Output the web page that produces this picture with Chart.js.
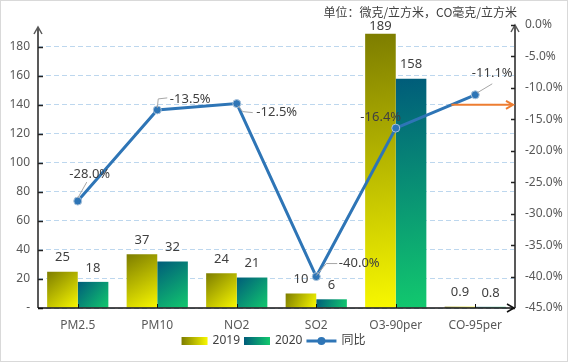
<!DOCTYPE html>
<html>
<head>
<meta charset="utf-8">
<script src="https://cdn.jsdelivr.net/npm/chart.js@4.4.1/dist/chart.umd.min.js"></script>
<style>
  html, body { margin: 0; padding: 0; background: #fff; }
</style>
</head>
<body>
<canvas id="chart" width="568" height="362"></canvas>
<script>
// data
const categories = ['PM2.5', 'PM10', 'NO2', 'SO2', 'O3-90per', 'CO-95per'];
const values2019 = [25, 37, 24, 10, 189, 0.9];
const values2020 = [18, 32, 21, 6, 158, 0.8];
const yoyChange = [-28.0, -13.5, -12.5, -40.0, -16.4, -11.1];
const seriesNames = ['2019', '2020', '同比'];
const unitTitle = '单位：微克/立方米，CO毫克/立方米';

const CAT_PCT = 0.77;
const TEXT = '#404040';
const TICK = '#595959';
const LINE_BLUE = '#2e75b6';
const GRAD_2019 = ['#7d7d00', '#f8f800'];
const GRAD_2020 = ['#005c7a', '#12c96e'];

// where each yoy label sits relative to its point, and its leader line
const yoyLabelPos = [
  { dx: 12, dy: -27, leader: [[0, -3], [9, -19]] },
  { dx: 33, dy: -11, leader: [[0, -2], [1, -11], [10, -12]] },
  { dx: 40, dy: 9, leader: [[1, 2], [6, 8], [16, 9]] },
  { dx: 43, dy: -13, leader: [[0, -1], [10, -13], [21, -13]] },
  { dx: -15, dy: -11, leader: null },
  { dx: 17, dy: -22, leader: [[2, -2], [17, -11]] },
];

Chart.defaults.font.family = '"Noto Sans", "Noto Sans CJK SC", sans-serif';
Chart.defaults.font.size = 12;

// gradient over the bar's own box, top-left dark to bottom-right bright
function barGradient(ctx, stops, slot) {
  const chart = ctx.chart;
  const xs = chart.scales.x, ys = chart.scales.y;
  if (ctx.type !== 'data' || !xs || !ys) return stops[1];
  const cw = xs.getPixelForValue(1) - xs.getPixelForValue(0);
  const bw = cw * CAT_PCT / 2;
  const left = xs.getPixelForValue(ctx.dataIndex) - bw + slot * bw;
  const top = ys.getPixelForValue(ctx.raw);
  const bottom = ys.getPixelForValue(0);
  if (![cw, left, top, bottom].every(Number.isFinite) || bw <= 0) return stops[1];
  const g = chart.ctx.createLinearGradient(left, top, left + bw, bottom);
  g.addColorStop(0, stops[0]);
  g.addColorStop(1, stops[1]);
  return g;
}

function arrowHead(c, x, y, dir) {
  c.beginPath();
  if (dir === 'up') {
    c.moveTo(x - 4, y + 7); c.lineTo(x, y); c.lineTo(x + 4, y + 7);
  } else {
    c.moveTo(x - 7, y - 4); c.lineTo(x, y); c.lineTo(x - 7, y + 4);
  }
  c.stroke();
}

const decorPlugin = {
  id: 'decor',
  afterDatasetsDraw(chart) {
    const c = chart.ctx;
    const area = chart.chartArea;
    c.save();
    c.font = '13px "Noto Sans", "Noto Sans CJK SC", sans-serif';
    c.fillStyle = TEXT;
    c.textAlign = 'center';
    c.textBaseline = 'middle';
    // bar value labels
    [0, 1].forEach(di => {
      const meta = chart.getDatasetMeta(di);
      meta.data.forEach((el, i) => {
        const v = chart.data.datasets[di].data[i];
        const y = Math.max(el.y - 14, area.top + 1);
        c.fillText(String(v), el.x, y);
      });
    });
    // yoy labels with leader lines
    const lineMeta = chart.getDatasetMeta(2);
    lineMeta.data.forEach((el, i) => {
      const p = yoyLabelPos[i];
      if (p.leader) {
        c.strokeStyle = '#a6a6a6';
        c.lineWidth = 1;
        c.beginPath();
        p.leader.forEach((pt, k) => {
          if (k === 0) c.moveTo(el.x + pt[0], el.y + pt[1]);
          else c.lineTo(el.x + pt[0], el.y + pt[1]);
        });
        c.stroke();
      }
      c.fillText(yoyChange[i].toFixed(1) + '%', el.x + p.dx, el.y + p.dy);
    });
    c.restore();
  },
  afterDraw(chart) {
    const c = chart.ctx;
    const area = chart.chartArea;
    const xs = chart.scales.x, ys = chart.scales.y, y1 = chart.scales.y1;
    c.save();

    // left axis
    c.strokeStyle = TICK;
    c.lineWidth = 2;
    c.beginPath();
    c.moveTo(area.left, area.bottom);
    c.lineTo(area.left, area.top + 2);
    c.stroke();
    c.lineWidth = 1.5;
    arrowHead(c, area.left, area.top + 2, 'up');
    ys.ticks.forEach(t => {
      const py = Math.round(ys.getPixelForValue(t.value)) + 0.5;
      c.strokeStyle = t.value === 0 ? '#000' : '#222';
      c.beginPath(); c.moveTo(area.left, py); c.lineTo(area.left + 5, py); c.stroke();
    });

    // right axis
    c.strokeStyle = TICK;
    c.lineWidth = 2;
    c.beginPath();
    c.moveTo(area.right, area.bottom);
    c.lineTo(area.right, area.top);
    c.stroke();
    c.lineWidth = 1.5;
    arrowHead(c, area.right, area.top, 'up');
    c.strokeStyle = '#222';
    y1.ticks.forEach(t => {
      const py = Math.round(y1.getPixelForValue(t.value)) + 0.5;
      c.beginPath(); c.moveTo(area.right - 4, py); c.lineTo(area.right, py); c.stroke();
    });

    // x axis
    c.strokeStyle = '#111';
    c.lineWidth = 1.5;
    c.beginPath();
    c.moveTo(area.left, area.bottom);
    c.lineTo(area.right - 1, area.bottom);
    c.stroke();
    arrowHead(c, area.right - 1, area.bottom, 'right');
    c.lineWidth = 1;
    categories.forEach((_, i) => {
      const px = Math.round(xs.getPixelForValue(i)) + 0.5;
      c.beginPath(); c.moveTo(px, area.bottom); c.lineTo(px, area.bottom - 4); c.stroke();
    });

    // orange pointer to the right axis
    const ay = y1.getPixelForValue(-12.7);
    c.strokeStyle = '#ed7d31';
    c.lineWidth = 2;
    c.beginPath();
    c.moveTo(xs.getPixelForValue(4.7), ay);
    c.lineTo(area.right - 2, ay);
    c.stroke();
    arrowHead(c, area.right - 2, ay, 'right');

    // unit title
    c.font = '12px "Noto Sans CJK SC", "Noto Sans", sans-serif';
    c.fillStyle = TEXT;
    c.textAlign = 'right';
    c.textBaseline = 'middle';
    c.fillText(unitTitle, area.right + 2, 12);

    // legend
    c.font = '12px "Noto Sans", "Noto Sans CJK SC", sans-serif';
    c.textAlign = 'left';
    const ly = 341;
    const boxW = 26, gap = 5, itemGap = 4;
    const widths = seriesNames.map(n => boxW + gap + c.measureText(n).width);
    const total = widths.reduce((a, b) => a + b, 0) + itemGap * 2;
    let lx = (area.left + area.right) / 2 - total / 2 - 5;
    [GRAD_2019, GRAD_2020].forEach((g, i) => {
      const grd = c.createLinearGradient(lx, 0, lx + boxW, 0);
      grd.addColorStop(0, g[0]);
      grd.addColorStop(1, g[1]);
      c.fillStyle = grd;
      c.fillRect(lx, ly - 4, boxW, 8);
      c.fillStyle = TEXT;
      c.fillText(seriesNames[i], lx + boxW + gap, ly);
      lx += widths[i] + itemGap;
    });
    c.strokeStyle = LINE_BLUE;
    c.lineWidth = 3;
    c.beginPath(); c.moveTo(lx, ly); c.lineTo(lx + boxW + 4, ly); c.stroke();
    c.fillStyle = LINE_BLUE;
    c.beginPath(); c.arc(lx + (boxW + 4) / 2, ly, 4, 0, Math.PI * 2); c.fill();
    c.fillStyle = TEXT;
    c.fillText(seriesNames[2], lx + boxW + 4 + gap, ly);

    // outer frame
    c.strokeStyle = '#d9d9d9';
    c.lineWidth = 1;
    c.strokeRect(0.5, 0.5, chart.width - 1, chart.height - 1);
    c.restore();
  }
};

new Chart(document.getElementById('chart'), {
  data: {
    labels: categories,
    datasets: [
      {
        type: 'bar',
        label: seriesNames[0],
        data: values2019,
        yAxisID: 'y',
        order: 1,
        categoryPercentage: CAT_PCT,
        barPercentage: 1,
        backgroundColor: ctx => barGradient(ctx, GRAD_2019, 0),
      },
      {
        type: 'bar',
        label: seriesNames[1],
        data: values2020,
        yAxisID: 'y',
        order: 1,
        categoryPercentage: CAT_PCT,
        barPercentage: 1,
        backgroundColor: ctx => barGradient(ctx, GRAD_2020, 1),
      },
      {
        type: 'line',
        label: seriesNames[2],
        data: yoyChange,
        yAxisID: 'y1',
        order: 0,
        borderColor: LINE_BLUE,
        borderWidth: 3,
        tension: 0,
        pointRadius: 4,
        pointBackgroundColor: LINE_BLUE,
        pointBorderColor: '#a9c2da',
        pointBorderWidth: 1,
      },
    ],
  },
  options: {
    responsive: false,
    animation: false,
    devicePixelRatio: 1,
    layout: { padding: { top: 25, left: 0, right: 0, bottom: 0 } },
    plugins: {
      legend: { display: false },
      tooltip: { enabled: false },
    },
    scales: {
      x: {
        type: 'category',
        offset: true,
        grid: { display: false, drawTicks: false },
        border: { display: false },
        ticks: { color: TICK, padding: 10, font: { size: 12 } },
        afterFit: s => { s.height = 54; },
      },
      y: {
        position: 'left',
        min: 0,
        max: 195,
        grid: { color: '#bdd7ee', drawTicks: false, lineWidth: 1 },
        border: { display: false, dash: [5, 3] },
        ticks: {
          stepSize: 20,
          includeBounds: false,
          color: TICK,
          padding: 8,
          callback: v => (v === 0 ? '-' : v),
        },
        afterFit: s => { s.width = 38; },
      },
      y1: {
        position: 'right',
        min: -45,
        max: 0,
        grid: { display: false, drawTicks: false },
        border: { display: false },
        ticks: {
          stepSize: 5,
          color: TICK,
          padding: 10,
          callback: v => v.toFixed(1) + '%',
        },
        afterFit: s => { s.width = 53; },
      },
    },
  },
  plugins: [decorPlugin],
});
</script>
</body>
</html>
